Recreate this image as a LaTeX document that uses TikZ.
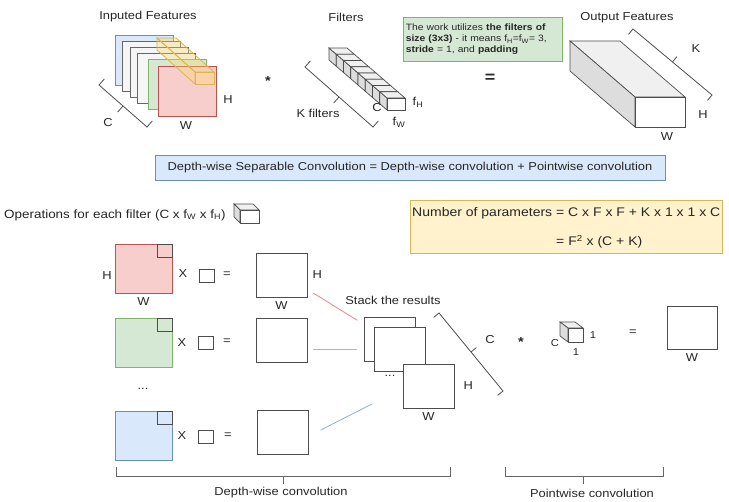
\documentclass[tikz,border=0pt]{standalone}
\usepackage{fontspec}
\setmainfont{Liberation Sans}[FakeStretch=1.12]
\usetikzlibrary{positioning}

\definecolor{redfill}{HTML}{F8CECC}
\definecolor{reddraw}{HTML}{B85450}
\definecolor{greenfill}{HTML}{D5E8D4}
\definecolor{greendraw}{HTML}{82B366}
\definecolor{bluefill}{HTML}{DAE8FC}
\definecolor{bluedraw}{HTML}{6C8EBF}
\definecolor{yellowfill}{HTML}{FFF2CC}
\definecolor{yellowdraw}{HTML}{D6B656}
\definecolor{grayfill}{HTML}{F5F5F5}
\definecolor{graydraw}{HTML}{666666}
\definecolor{tubefill}{HTML}{FFD966}
\definecolor{edge}{HTML}{4D4D4D}
\definecolor{cubetop}{HTML}{F0F0F0}
\definecolor{cubeside}{HTML}{DDDDDD}
\definecolor{redlink}{HTML}{E38686}
\definecolor{greenlink}{HTML}{9DCB85}
\definecolor{bluelink}{HTML}{8CAEE0}

\tikzset{
  lbl/.style={font=\fontsize{11.5}{13}\selectfont, inner sep=1pt, text=black!85},
  sign/.style={font=\bfseries\fontsize{13}{13}\selectfont, inner sep=1pt, text=black!85},
  sq/.style={draw=edge, fill=white, line width=0.9pt, inner sep=0pt},
  kern/.style={sq, minimum width=15pt, minimum height=13pt},
  brk/.style={draw=edge, line width=0.8pt},
  cubeline/.style={draw=edge, line width=0.7pt},
  tube/.style={draw=yellowdraw, fill=tubefill, fill opacity=0.35, line width=0.8pt},
  link/.style={line width=0.8pt},
}

\begin{document}
\begin{tikzpicture}[x=1pt,y=-1pt]
\useasboundingbox (0,0) rectangle (729,502);

% inputed features
\node[lbl] (inTitle) at (148,17) {Inputed Features};
\foreach \x/\y/\f/\d in {115/35/bluefill/bluedraw, 122/41/grayfill/graydraw, 130/47/grayfill/graydraw,
                         137/53/grayfill/graydraw, 148/59/greenfill/greendraw, 158/66/redfill/reddraw}
  \draw[fill=\f, draw=\d, line width=0.8pt] (\x,\y) rectangle ++(58,50);
\draw[tube] (157,38) -- (176,38) -- (214,72) -- (195,72) -- cycle; % tube through channels
\draw[tube] (157,38) -- (195,72) -- (195,84) -- (157,50) -- cycle;
\draw[tube] (195,72) rectangle (214,84);
\draw[brk] (104.3,79) -- (99,85) -- (147,127) -- (152.3,121);
\draw[brk] (123,106) -- (117.7,112);
\node[lbl] (inC) at (108,123) {C};
\node[lbl] (inH) at (228,100) {H};
\node[lbl] (inW) at (186,126) {W};

\node[sign] (convTop) at (268,81) {*};

% filters
\node[lbl] (filTitle) at (346,17) {Filters};
\foreach \i in {0,...,7}{
  \pgfmathsetmacro{\cx}{329+7.25*\i}
  \pgfmathsetmacro{\cy}{48+6.25*\i}
  \draw[cubeline, fill=cubeside] (\cx,\cy) -- ++(7.25,6.25) -- ++(0,12) -- ++(-7.25,-6.25) -- cycle;
  \draw[cubeline, fill=cubetop] (\cx,\cy) -- ++(18,0) -- ++(7.25,6.25) -- ++(-18,0) -- cycle;
  \draw[cubeline, fill=white] (\cx+7.25,\cy+6.25) rectangle ++(18,12);
}
\draw[brk] (310.3,61) -- (305,67) -- (373,127) -- (378.3,121);
\draw[brk] (339,97) -- (333.7,103);
\node[lbl] (filK) at (318,113) {K filters};
\node[lbl] (filC) at (377,108) {C};
\node[lbl] (filH) at (418,102) {f\textsubscript{H}};
\node[lbl] (filW) at (399,122) {f\textsubscript{W}};

% note
\node[draw=greendraw, fill=greenfill, line width=0.8pt, anchor=north west, align=left,
      minimum width=159pt, minimum height=44pt, inner sep=2.5pt, text width=154pt, text=black!85,
      font=\fontsize{9.2}{10.8}\selectfont] (note) at (403,17)
  {The work utilizes \textbf{the filters of}\\
   \textbf{size (3x3)} - it means f\textsubscript{H}=f\textsubscript{W}= 3,\\
   \textbf{stride} = 1, and \textbf{padding}};

\node[sign, font=\bfseries\fontsize{16}{16}\selectfont] (eqTop) at (490,78) {=};

% output features
\node[lbl] (outTitle) at (627,18) {Output Features};
\draw[cubeline, fill=cubetop] (570,41) -- (620,41) -- (685,97) -- (635,97) -- cycle;
\draw[cubeline, fill=cubeside] (570,41) -- (635,97) -- (635,127) -- (570,71) -- cycle;
\draw[cubeline, fill=white] (635,97) rectangle (685,127);
\draw[brk] (628.5,34.4) -- (633,29) -- (712,95) -- (707.5,100.4);
\draw[brk] (672.5,62) -- (677,56.6);
\node[lbl] (outK) at (696,49) {K};
\node[lbl] (outH) at (703,115) {H};
\node[lbl] (outW) at (667,137) {W};

% summary
\node[draw=bluedraw, fill=bluefill, line width=0.8pt, minimum width=510pt, minimum height=25pt,
      font=\fontsize{11.5}{13}\selectfont, text=black!85] (sep) at (410,168)
  {Depth-wise Separable Convolution = Depth-wise convolution + Pointwise convolution};

\node[lbl, anchor=west, font=\fontsize{12}{14}\selectfont] (ops) at (3,215)
  {Operations for each filter (C x f\textsubscript{W} x f\textsubscript{H})};
\draw[cubeline, fill=cubetop] (234,204) -- (253,204) -- (259,210) -- (240,210) -- cycle;
\draw[cubeline, fill=cubeside] (234,204) -- (240,210) -- (240,223) -- (234,217) -- cycle;
\draw[cubeline, fill=white] (240,210) rectangle (259,223);

\node[draw=yellowdraw, fill=yellowfill, line width=0.8pt, anchor=north west,
      minimum width=312pt, minimum height=53pt] (params) at (410,200) {};
\node[lbl, anchor=west, font=\fontsize{12.5}{14}\selectfont] (paramsA) at (411,213)
  {Number of parameters = C x F x F + K x 1 x 1 x C};
\node[lbl, anchor=west, font=\fontsize{12.5}{14}\selectfont] (paramsB) at (555,242)
  {= F\textsuperscript{2} x (C + K)};

% depth-wise rows
\node[sq, fill=redfill, draw=reddraw, minimum width=57pt, minimum height=49pt] (inA) at (143.5,268.5) {};
\node[kern, anchor=north east, fill=redfill] (winA) at (inA.north east) {};
\node[lbl] (inAH) at (107,276) {H};
\node[lbl, below=3pt of inA] (inAW) {W};
\node[lbl] (mulA) at (183,274) {X};
\node[kern] (kerA) at (206.5,275.5) {};
\node[lbl] (eqA) at (227,275) {=};
\node[sq, minimum width=51pt, minimum height=44pt] (outA) at (281.5,275) {};
\node[lbl, right=4pt of outA] (outAH) {H};
\node[lbl, below=3pt of outA] (outAW) {W};

\node[sq, fill=greenfill, draw=greendraw, minimum width=57pt, minimum height=49pt] (inB) at (143.5,342.5) {};
\node[kern, anchor=north east, fill=greenfill] (winB) at (inB.north east) {};
\node[lbl] (mulB) at (182,343) {X};
\node[kern] (kerB) at (206,342.5) {};
\node[lbl] (eqB) at (227,342) {=};
\node[sq, minimum width=51pt, minimum height=44pt] (outB) at (281.5,340) {};

\node[lbl] (dotsIn) at (143,389) {...};

\node[sq, fill=bluefill, draw=bluedraw, minimum width=57pt, minimum height=49pt] (inC) at (143.5,436) {};
\node[kern, anchor=north east, fill=bluefill] (winC) at (inC.north east) {};
\node[lbl] (mulC) at (182,436) {X};
\node[kern] (kerC) at (206,436.5) {};
\node[lbl] (eqC) at (228,436) {=};
\node[sq, minimum width=51pt, minimum height=44pt] (outC) at (283,432.5) {};

% stack
\node[lbl] (stackTitle) at (393,300) {Stack the results};
\node[sq, minimum width=51pt, minimum height=44pt] (stackA) at (390,339) {};
\node[sq, minimum width=51pt, minimum height=44pt] (stackB) at (399.5,349) {};
\node[sq, minimum width=51pt, minimum height=44pt] (stackC) at (428.5,386) {};
\node[lbl] (dotsStack) at (390,376) {...};
\node[lbl, right=8pt of stackC] (stackH) {H};
\node[lbl, below=3pt of stackC] (stackW) {W};

\draw[link, redlink, shorten <=7pt, shorten >=8pt] ([yshift=8pt]outA.south east) -- ([yshift=-8pt]stackA.north west);
\draw[link, greenlink, shorten <=6pt, shorten >=7pt] ([yshift=-9pt]outB.east) -- ([yshift=-9pt]outB.east -| stackA.west);
\draw[link, bluelink, shorten <=13pt, shorten >=34pt] ([yshift=-3.5pt]outC.east) -- ([yshift=20pt]stackC.south west);

\draw[brk] (433.6,317.4) -- (439,313) -- (503,391) -- (497.6,395.4);
\draw[brk] (471,352) -- (476.4,347.6);
\node[lbl] (stackC_lbl) at (490,340) {C};

% pointwise
\node[sign] (convLow) at (521,342) {*};
\draw[cubeline, fill=cubetop] (560,322) -- (575,322) -- (583,328) -- (568,328) -- cycle;
\draw[cubeline, fill=cubeside] (560,322) -- (568,328) -- (568,342) -- (560,336) -- cycle;
\draw[cubeline, fill=white] (568,328) rectangle (583,342);
\node[lbl, font=\fontsize{10}{12}\selectfont] (pwC) at (555,343) {C};
\node[lbl, font=\fontsize{10}{12}\selectfont] (pwR) at (593,335) {1};
\node[lbl, font=\fontsize{10}{12}\selectfont] (pwB) at (576,352) {1};
\node[lbl] (eqP) at (633,333) {=};
\node[sq, minimum width=50pt, minimum height=43pt] (outP) at (692,327.5) {};
\node[lbl, below=3pt of outP] (outPW) {W};

% bottom brackets
\draw[brk, draw=graydraw] (116,467) -- (116,476) -- (450,476) -- (450,467);
\draw[brk, draw=graydraw] (283,476) -- (283,484);
\node[lbl] (dwLbl) at (281,493) {Depth-wise convolution};
\draw[brk, draw=graydraw] (505,467) -- (505,476) -- (663,476) -- (663,467);
\draw[brk, draw=graydraw] (583,476) -- (583,484);
\node[lbl] (pwLbl) at (592,493) {Pointwise convolution};

\end{tikzpicture}
\end{document}
